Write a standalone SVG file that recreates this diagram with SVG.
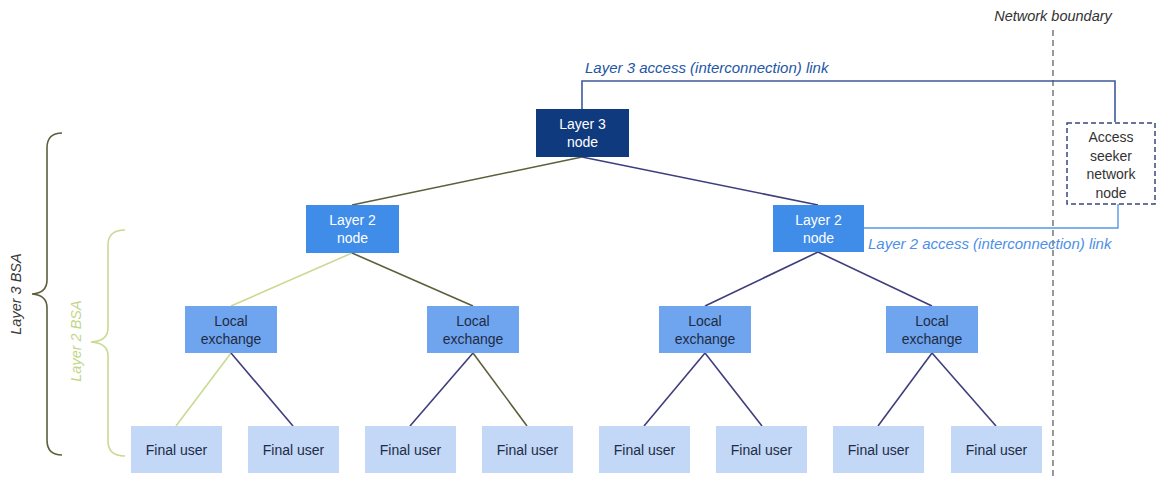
<svg xmlns="http://www.w3.org/2000/svg" width="1158" height="481" viewBox="0 0 1158 481">
<style>
text{font-family:"Liberation Sans",Arial,sans-serif;font-size:14px;text-anchor:middle}
.l3 rect{fill:#0f3a7e}
.l3 text,.l2 text{fill:#ffffff}
.l2 rect{fill:#3f8ce9}
.le rect{fill:#6fa4ef}
.le text,.fu text{fill:#1e2b45}
.fu rect{fill:#c2d8f6}
.olive{stroke:#5e5e3c;stroke-width:1.6;fill:none}
.navy{stroke:#3e3e7c;stroke-width:1.6;fill:none}
.lgreen{stroke:#c9da92;stroke-width:1.6;fill:none}
.lab{font-style:italic;text-anchor:start;font-size:15px}
</style>
<rect width="1158" height="481" fill="#ffffff"/>
<!-- network boundary -->
<line x1="1053" y1="30" x2="1053" y2="476" stroke="#555" stroke-width="1.2" stroke-dasharray="6,4"/>
<text x="1053" y="21" style="font-style:italic;font-size:14.5px;fill:#333">Network boundary</text>
<!-- braces -->
<g id="brace-l3">
<path d="M62,133 Q47,133 47,148 L47,280 Q47,293 32,294 Q47,295 47,308 L47,440 Q47,455 62,455" class="olive"/>
<text transform="translate(21,294) rotate(-90)" style="font-style:italic;fill:#3a3a3a;font-size:14.5px">Layer 3 BSA</text>
</g>
<g id="brace-l2">
<path d="M125,230 Q108,230 108,245 L108,328 Q108,341 91,342 Q108,343 108,356 L108,441 Q108,456 125,456" class="lgreen"/>
<text transform="translate(81,341) rotate(-90)" style="font-style:italic;fill:#c2d68a;font-size:14.5px">Layer 2 BSA</text>
</g>
<!-- connectors -->
<g id="connectors">
<line x1="582" y1="157" x2="352" y2="205" class="olive"/>
<line x1="582" y1="157" x2="818" y2="205" class="navy"/>
<line x1="352" y1="253" x2="231" y2="306" class="lgreen"/>
<line x1="352" y1="253" x2="473" y2="306" class="olive"/>
<line x1="818" y1="252" x2="705" y2="306" class="navy"/>
<line x1="818" y1="252" x2="932" y2="306" class="navy"/>
<line x1="231" y1="353" x2="176" y2="426" class="lgreen"/>
<line x1="231" y1="353" x2="293" y2="426" class="navy"/>
<line x1="473" y1="353" x2="410" y2="426" class="navy"/>
<line x1="473" y1="353" x2="527" y2="426" class="olive"/>
<line x1="705" y1="353" x2="644" y2="426" class="navy"/>
<line x1="705" y1="353" x2="762" y2="426" class="navy"/>
<line x1="932" y1="353" x2="878" y2="426" class="navy"/>
<line x1="932" y1="353" x2="996" y2="426" class="navy"/>
<path d="M582,109 V81 H1115 V122" fill="none" stroke="#3d5a9a" stroke-width="1.6"/>
<path d="M864,228 H1118 V204" fill="none" stroke="#5a97e6" stroke-width="1.4"/>
</g>
<text x="585" y="73" class="lab" style="fill:#2456a4">Layer 3 access (interconnection) link</text>
<text x="868" y="249" class="lab" style="fill:#4d8fe6">Layer 2 access (interconnection) link</text>
<!-- nodes -->
<g id="l3-node" class="l3"><rect x="536" y="109" width="93" height="48"/><text x="582.5" y="129">Layer 3</text><text x="582.5" y="147">node</text></g>
<g id="l2-node-left" class="l2"><rect x="306" y="205" width="93" height="48"/><text x="352.5" y="225">Layer 2</text><text x="352.5" y="243">node</text></g>
<g id="l2-node-right" class="l2"><rect x="773" y="205" width="91" height="47"/><text x="818.5" y="225">Layer 2</text><text x="818.5" y="243">node</text></g>
<g id="access-seeker">
<rect x="1067" y="123" width="88" height="81" fill="#ffffff" stroke="#3a4878" stroke-width="1.5" stroke-dasharray="5,3"/>
<text x="1111" y="142" fill="#333">Access</text><text x="1111" y="161" fill="#333">seeker</text><text x="1111" y="179" fill="#333">network</text><text x="1111" y="198" fill="#333">node</text>
</g>
<g id="le1" class="le"><rect x="185" y="306" width="92" height="47"/><text x="231" y="326">Local</text><text x="231" y="344">exchange</text></g>
<g id="le2" class="le"><rect x="427" y="306" width="92" height="47"/><text x="473" y="326">Local</text><text x="473" y="344">exchange</text></g>
<g id="le3" class="le"><rect x="659" y="306" width="92" height="47"/><text x="705" y="326">Local</text><text x="705" y="344">exchange</text></g>
<g id="le4" class="le"><rect x="886" y="306" width="92" height="47"/><text x="932" y="326">Local</text><text x="932" y="344">exchange</text></g>
<g id="fu1" class="fu"><rect x="131" y="426" width="91" height="47"/><text x="176.5" y="455">Final user</text></g>
<g id="fu2" class="fu"><rect x="248" y="426" width="91" height="47"/><text x="293.5" y="455">Final user</text></g>
<g id="fu3" class="fu"><rect x="365" y="426" width="91" height="47"/><text x="410.5" y="455">Final user</text></g>
<g id="fu4" class="fu"><rect x="482" y="426" width="91" height="47"/><text x="527.5" y="455">Final user</text></g>
<g id="fu5" class="fu"><rect x="599" y="426" width="91" height="47"/><text x="644.5" y="455">Final user</text></g>
<g id="fu6" class="fu"><rect x="716" y="426" width="91" height="47"/><text x="761.5" y="455">Final user</text></g>
<g id="fu7" class="fu"><rect x="833" y="426" width="91" height="47"/><text x="878.5" y="455">Final user</text></g>
<g id="fu8" class="fu"><rect x="951" y="426" width="91" height="47"/><text x="996.5" y="455">Final user</text></g>
</svg>
